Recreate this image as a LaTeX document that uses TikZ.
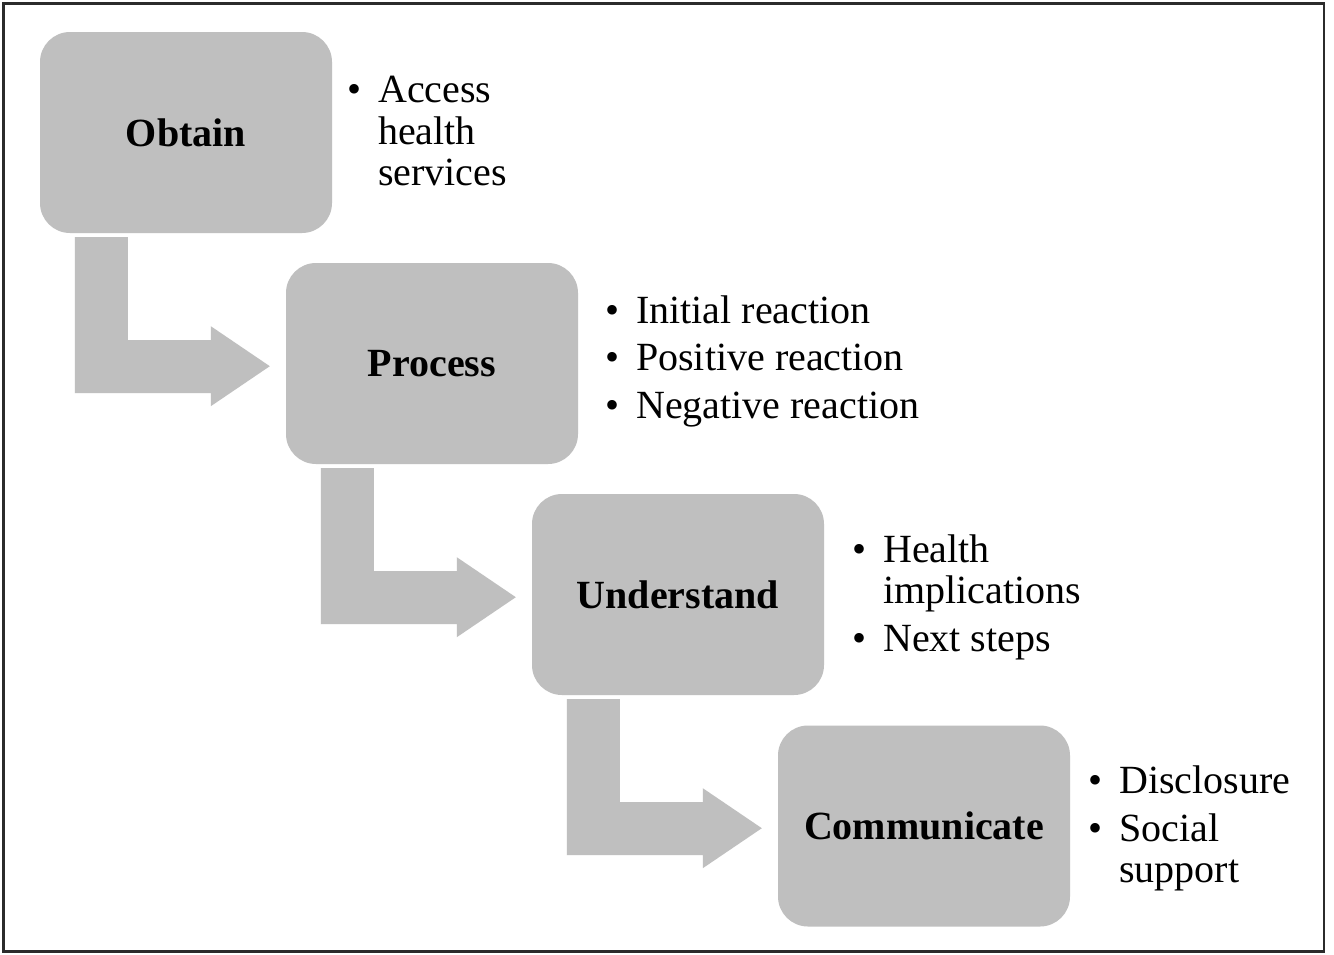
\documentclass[tikz,border=0pt]{standalone}
\usepackage{fontspec}
\setmainfont{Liberation Serif}
\usetikzlibrary{calc}

\definecolor{stepgrey}{HTML}{BFBFBF}
\definecolor{framegrey}{HTML}{2B2B2B}

\tikzset{
  stepbox/.style={rectangle, rounded corners=30pt, fill=stepgrey, draw=none,
    minimum width=292pt, minimum height=201pt, inner sep=0pt,
    font=\fontsize{40}{44}\selectfont\bfseries},
  itemline/.style={anchor=base west, inner sep=0pt, font=\fontsize{40}{44}\selectfont},
  bentarrow/.style={fill=stepgrey, draw=none},
}

% bullet hung to the left of the item text
\newcommand{\itembullet}{\llap{\textbullet\hspace{17pt}}}

% bent arrow leaving the bottom of box #1 and pointing right at the next box
\newcommand{\bentarrowfrom}[1]{%
  \fill[bentarrow]
    ($(#1.south west)+(35,4)$) -- ($(#1.south west)+(88,4)$)
    -- ($(#1.south west)+(88,107)$) -- ($(#1.south west)+(171,107)$)
    -- ($(#1.south west)+(171,93)$) -- ($(#1.south west)+(230,133)$)
    -- ($(#1.south west)+(171,173)$) -- ($(#1.south west)+(171,160)$)
    -- ($(#1.south west)+(35,160)$) -- cycle;}

\begin{document}
\begin{tikzpicture}[x=1pt, y=-1pt]
  \useasboundingbox (0,0) rectangle (1334,954);
  \fill[white] (0,0) rectangle (1334,954);
  \draw[framegrey, line width=2.6pt] (3.5,3.5) rectangle (1324,951.5);

  % steps
  \node[stepbox] (obtain)      at (186,132.5) {Obtain};
  \node[stepbox] (process)     at (432,363.5) {Process};
  \node[stepbox] (understand)  at (678,594.5) {Understand};
  \node[stepbox] (communicate) at (924,826)   {Communicate};

  % connectors between consecutive steps
  \bentarrowfrom{obtain}
  \bentarrowfrom{process}
  \bentarrowfrom{understand}

  % details for each step
  \node[itemline] (o1) at (378,102) {\itembullet Access};
  \node[itemline] (o2) at (378,144) {health};
  \node[itemline] (o3) at (378,185) {services};

  \node[itemline] (p1) at (636,323) {\itembullet Initial reaction};
  \node[itemline] (p2) at (636,370) {\itembullet Positive reaction};
  \node[itemline] (p3) at (636,418) {\itembullet Negative reaction};

  \node[itemline] (u1) at (883,562) {\itembullet Health};
  \node[itemline] (u2) at (883,603) {implications};
  \node[itemline] (u3) at (883,651) {\itembullet Next steps};

  \node[itemline] (c1) at (1119,793) {\itembullet Disclosure};
  \node[itemline] (c2) at (1119,841) {\itembullet Social};
  \node[itemline] (c3) at (1119,882) {support};
\end{tikzpicture}
\end{document}
